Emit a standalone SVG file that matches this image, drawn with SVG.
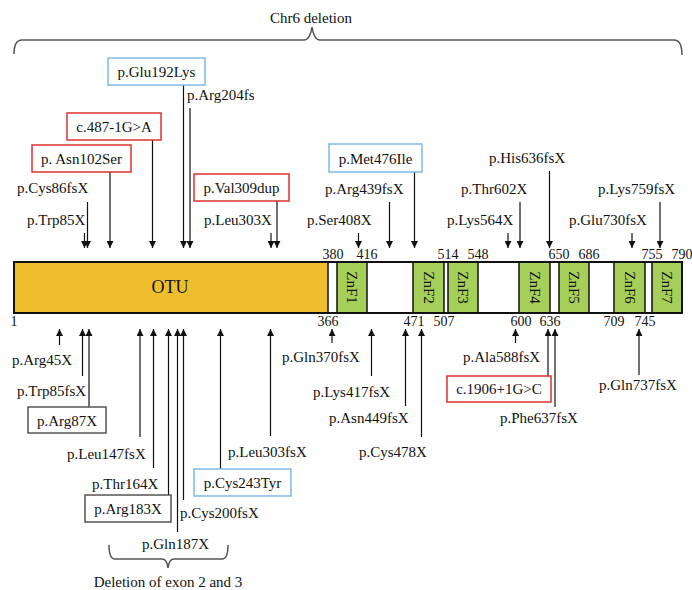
<svg xmlns="http://www.w3.org/2000/svg" width="692" height="590" viewBox="0 0 692 590" font-family="'Liberation Serif', 'Times New Roman', 'DejaVu Serif', serif">
<defs>
<style>
text{font-family:'Liberation Serif','Times New Roman','DejaVu Serif',serif;font-size:15px;fill:#111}
.num{font-size:14px;text-anchor:middle}
.mid{text-anchor:middle}
.dom{stroke:#111;stroke-width:1.5}
.znf{fill:#A6CF5A}
.znl{font-size:15px;text-anchor:middle;dominant-baseline:central}
.bx{fill:#fff;stroke-width:1.5}
.blue{stroke:#7DB9E8}
.red{stroke:#E0302F}
.gray{stroke:#555}
.arr line{stroke:#111;stroke-width:1.2;marker-end:url(#ah)}
.brace{fill:none;stroke:#555;stroke-width:1.5}
</style>
<marker id="ah" viewBox="0 0 8 8" refX="8" refY="4" markerWidth="7" markerHeight="7" markerUnits="userSpaceOnUse" orient="auto">
<path d="M0,0 L8,4 L0,8 z" fill="#111"/>
</marker>
</defs>
<rect width="692" height="590" fill="#fff"/>

<g id="chr6-deletion">
<path class="brace" d="M14,54 Q14,40 22,40 L304,40 Q310,40 312,27 Q314,40 320,40 L674,40 Q682,40 682,55"/>
<text x="311" y="23" class="mid">Chr6 deletion</text>
</g>

<g id="protein">
<rect x="14" y="262" width="668" height="51" fill="#fff" stroke="#111" stroke-width="2"/>
<g id="otu"><rect class="dom" x="14" y="262" width="314" height="51" fill="#EEBE2E"/><text x="170" y="293" class="mid" style="font-size:18px">OTU</text></g>
<g id="znf1"><rect class="dom znf" x="337" y="262" width="30" height="51"/><text class="znl" transform="translate(352,287.5) rotate(90)">ZnF1</text></g>
<g id="znf2"><rect class="dom znf" x="413" y="262" width="31" height="51"/><text class="znl" transform="translate(428.5,287.5) rotate(90)">ZnF2</text></g>
<g id="znf3"><rect class="dom znf" x="448" y="262" width="30" height="51"/><text class="znl" transform="translate(463,287.5) rotate(90)">ZnF3</text></g>
<g id="znf4"><rect class="dom znf" x="519" y="262" width="31" height="51"/><text class="znl" transform="translate(534.5,287.5) rotate(90)">ZnF4</text></g>
<g id="znf5"><rect class="dom znf" x="559" y="262" width="30" height="51"/><text class="znl" transform="translate(574,287.5) rotate(90)">ZnF5</text></g>
<g id="znf6"><rect class="dom znf" x="614" y="262" width="31" height="51"/><text class="znl" transform="translate(629.5,287.5) rotate(90)">ZnF6</text></g>
<g id="znf7"><rect class="dom znf" x="652" y="262" width="30" height="51"/><text class="znl" transform="translate(667,287.5) rotate(90)">ZnF7</text></g>
<rect x="14" y="262" width="668" height="51" fill="none" stroke="#111" stroke-width="2"/>
</g>

<g id="positions">
<text class="num" x="333" y="259">380</text>
<text class="num" x="367" y="259">416</text>
<text class="num" x="448" y="259">514</text>
<text class="num" x="478" y="259">548</text>
<text class="num" x="559" y="259">650</text>
<text class="num" x="589" y="259">686</text>
<text class="num" x="652" y="259">755</text>
<text class="num" x="682" y="259">790</text>
<text class="num" x="14" y="326">1</text>
<text class="num" x="328" y="326">366</text>
<text class="num" x="414" y="326">471</text>
<text class="num" x="444" y="326">507</text>
<text class="num" x="521" y="326">600</text>
<text class="num" x="550" y="326">636</text>
<text class="num" x="614" y="326">709</text>
<text class="num" x="645" y="326">745</text>
</g>

<g id="connectors" class="arr">
<line x1="84.5" y1="233" x2="84.5" y2="248"/>
<line x1="87.5" y1="202" x2="87.5" y2="248"/>
<line x1="110" y1="172" x2="110" y2="248"/>
<line x1="152.5" y1="140" x2="152.5" y2="248"/>
<line x1="183.5" y1="85" x2="183.5" y2="248"/>
<line x1="190" y1="108" x2="190" y2="248"/>
<line x1="271" y1="233" x2="271" y2="248"/>
<line x1="277" y1="201" x2="277" y2="248"/>
<line x1="358.5" y1="233" x2="358.5" y2="248"/>
<line x1="389.5" y1="202" x2="389.5" y2="248"/>
<line x1="414.5" y1="172" x2="414.5" y2="248"/>
<line x1="508" y1="233" x2="508" y2="248"/>
<line x1="520" y1="202" x2="520" y2="248"/>
<line x1="549.5" y1="171" x2="549.5" y2="248"/>
<line x1="632" y1="233" x2="632" y2="248"/>
<line x1="660" y1="202" x2="660" y2="248"/>
<line x1="59.5" y1="345" x2="59.5" y2="329"/>
<line x1="82.5" y1="376" x2="82.5" y2="329"/>
<line x1="89" y1="407" x2="89" y2="329"/>
<line x1="140" y1="437" x2="140" y2="329"/>
<line x1="153.5" y1="468" x2="153.5" y2="329"/>
<line x1="168.5" y1="495" x2="168.5" y2="329"/>
<line x1="177.5" y1="532" x2="177.5" y2="329"/>
<line x1="183.5" y1="500" x2="183.5" y2="329"/>
<line x1="220.5" y1="469" x2="220.5" y2="329"/>
<line x1="270.5" y1="436" x2="270.5" y2="329"/>
<line x1="332" y1="343" x2="332" y2="329"/>
<line x1="371.5" y1="376" x2="371.5" y2="329"/>
<line x1="405.5" y1="406" x2="405.5" y2="329"/>
<line x1="421.5" y1="437" x2="421.5" y2="329"/>
<line x1="515.5" y1="343" x2="515.5" y2="329"/>
<line x1="548" y1="376" x2="548" y2="329"/>
<line x1="555" y1="407" x2="555" y2="329"/>
<line x1="639" y1="375" x2="639" y2="329"/>
</g>

<g id="m-glu192lys"><rect class="bx blue" x="108" y="58" width="97" height="27"/><text x="156.5" y="77" class="mid">p.Glu192Lys</text></g>
<g id="m-arg204fs"><text x="187" y="100">p.Arg204fs</text></g>
<g id="m-c487"><rect class="bx red" x="67" y="113" width="94" height="27"/><text x="114" y="132" class="mid">c.487-1G&gt;A</text></g>
<g id="m-asn102ser"><rect class="bx red" x="32" y="145" width="99" height="27"/><text x="81.5" y="164" class="mid">p. Asn102Ser</text></g>
<g id="m-cys86fsx"><text x="17" y="193">p.Cys86fsX</text></g>
<g id="m-trp85x"><text x="27" y="225">p.Trp85X</text></g>
<g id="m-val309dup"><rect class="bx red" x="194" y="174" width="95" height="27"/><text x="241.5" y="193" class="mid">p.Val309dup</text></g>
<g id="m-leu303x"><text x="204" y="225">p.Leu303X</text></g>
<g id="m-met476ile"><rect class="bx blue" x="329" y="144" width="93" height="28"/><text x="375.5" y="164" class="mid">p.Met476Ile</text></g>
<g id="m-arg439fsx"><text x="325" y="194">p.Arg439fsX</text></g>
<g id="m-ser408x"><text x="307" y="225">p.Ser408X</text></g>
<g id="m-his636fsx"><text x="489" y="163">p.His636fsX</text></g>
<g id="m-thr602x"><text x="461" y="194">p.Thr602X</text></g>
<g id="m-lys564x"><text x="447" y="225">p.Lys564X</text></g>
<g id="m-lys759fsx"><text x="598" y="194">p.Lys759fsX</text></g>
<g id="m-glu730fsx"><text x="569" y="225">p.Glu730fsX</text></g>

<g id="m-arg45x"><text x="12" y="365">p.Arg45X</text></g>
<g id="m-trp85fsx"><text x="17" y="396">p.Trp85fsX</text></g>
<g id="m-arg87x"><rect class="bx gray" x="28" y="407" width="78" height="26"/><text x="67" y="426" class="mid">p.Arg87X</text></g>
<g id="m-leu147fsx"><text x="67" y="459">p.Leu147fsX</text></g>
<g id="m-thr164x"><text x="92" y="489">p.Thr164X</text></g>
<g id="m-arg183x"><rect class="bx gray" x="85" y="495" width="86" height="27"/><text x="128" y="514" class="mid">p.Arg183X</text></g>
<g id="m-gln187x"><text x="142" y="549">p.Gln187X</text></g>
<g id="m-cys200fsx"><text x="180" y="518">p.Cys200fsX</text></g>
<g id="m-cys243tyr"><rect class="bx blue" x="194" y="469" width="97" height="27"/><text x="242.5" y="488" class="mid">p.Cys243Tyr</text></g>
<g id="m-leu303fsx"><text x="228" y="457">p.Leu303fsX</text></g>
<g id="m-gln370fsx"><text x="282" y="362">p.Gln370fsX</text></g>
<g id="m-lys417fsx"><text x="313" y="397">p.Lys417fsX</text></g>
<g id="m-asn449fsx"><text x="329" y="423">p.Asn449fsX</text></g>
<g id="m-cys478x"><text x="359" y="457">p.Cys478X</text></g>
<g id="m-ala588fsx"><text x="463" y="362">p.Ala588fsX</text></g>
<g id="m-c1906"><rect class="bx red" x="447" y="376" width="104" height="26"/><text x="499" y="394" class="mid">c.1906+1G&gt;C</text></g>
<g id="m-phe637fsx"><text x="500" y="423">p.Phe637fsX</text></g>
<g id="m-gln737fsx"><text x="599" y="390">p.Gln737fsX</text></g>

<g id="exon-deletion">
<path class="brace" d="M109,545 Q109,559 115,559 L162,559 Q167,559 168,568 Q169,559 174,559 L222,559 Q228,559 228,545"/>
<text x="168" y="587" class="mid">Deletion of exon 2 and 3</text>
</g>
</svg>
